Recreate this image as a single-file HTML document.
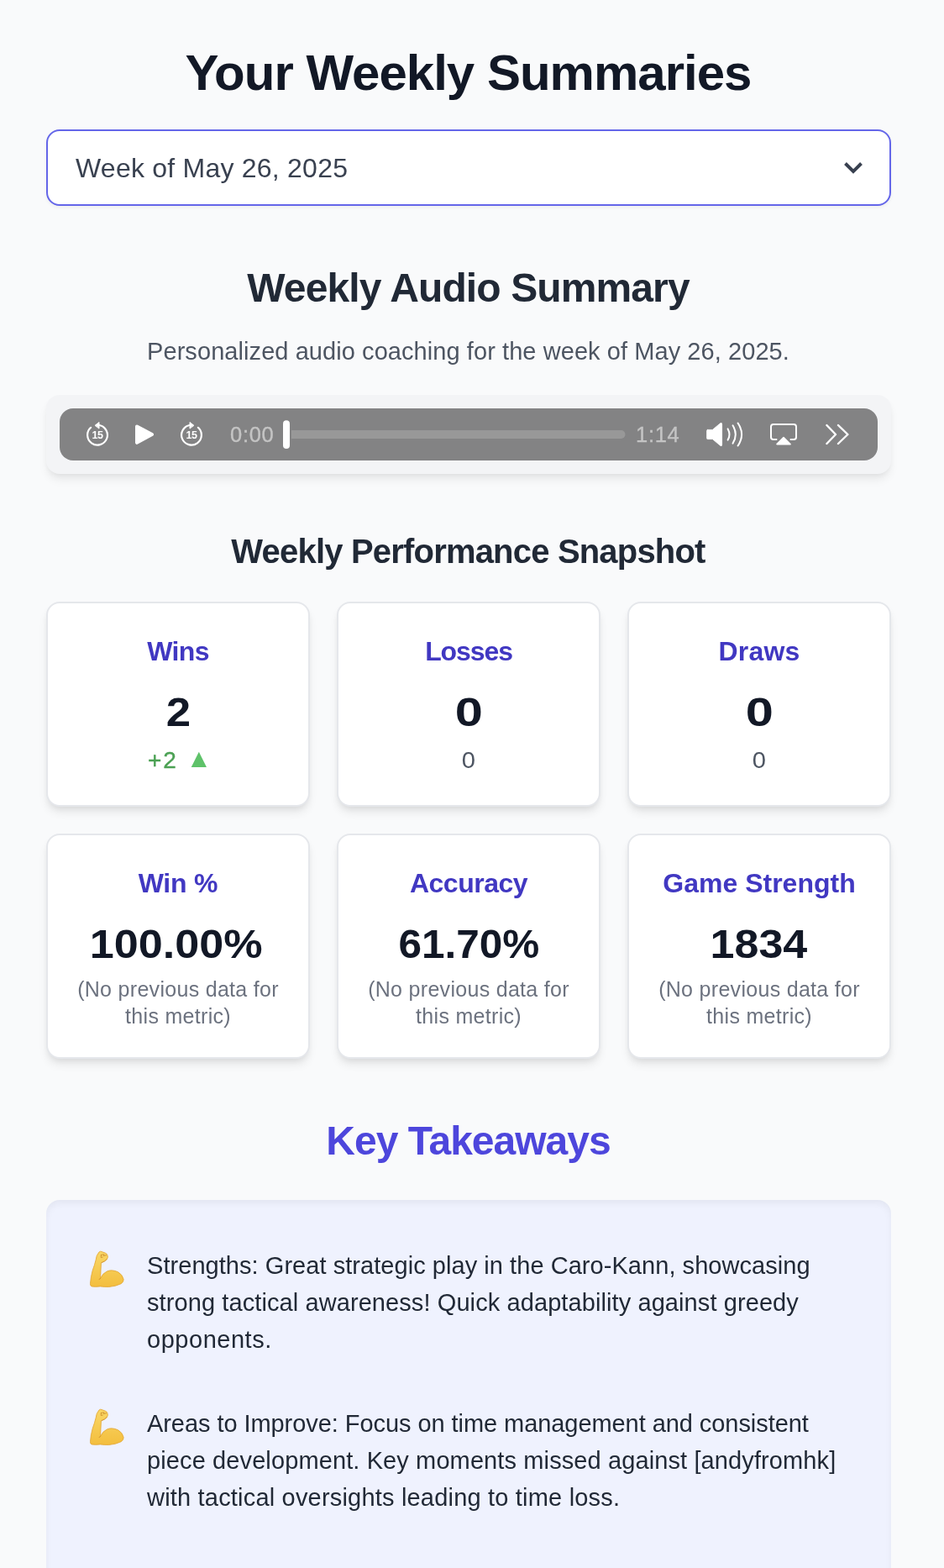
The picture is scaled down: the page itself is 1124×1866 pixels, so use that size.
<!DOCTYPE html>
<html lang="en">
<head>
<meta charset="utf-8">
<title>Your Weekly Summaries</title>
<style>
*{box-sizing:border-box;margin:0;padding:0}
html,body{width:1124px;height:1866px;overflow:hidden}
body{background:#f9fafb;font-family:"Liberation Sans",sans-serif;color:#121826;position:relative}
.c{position:absolute;left:54.5px;width:1006px;text-align:center;white-space:nowrap}
.c span,.card span{display:inline-block}
h1{top:51px;font-size:60px;line-height:72px;font-weight:700;color:#121826}
.select{position:absolute;left:55px;top:154px;width:1006px;height:91px;border:2px solid #6466e9;border-radius:16px;background:#fff;box-shadow:0 2px 4px rgba(0,0,0,.05)}
.select span{position:absolute;left:33px;top:24px;font-size:32px;line-height:40px;color:#394150;white-space:nowrap}
.select svg{position:absolute;left:947px;top:36px}
h2{top:314px;font-size:48px;line-height:58px;font-weight:700;color:#212936}
.sub{top:398px;font-size:28px;line-height:40px;color:#4d5562}
.audiowrap{position:absolute;left:55px;top:470px;width:1006px;height:94px;border-radius:16px;background:#f3f4f6;box-shadow:0 8px 12px -2px rgba(0,0,0,.08),0 3px 6px -2px rgba(0,0,0,.05)}
.player{position:absolute;left:16px;top:16px;width:974px;height:62px;border-radius:16px;background:#838384}
.player svg{position:absolute;left:0;top:0}
.time{position:absolute;top:0;height:62px;line-height:62px;font-size:25px;color:#c1c1c1;white-space:nowrap}
h3{top:632px;font-size:40px;line-height:48px;font-weight:700;color:#212936}
.card{position:absolute;width:314px;background:#fff;border:2px solid #e5e7eb;border-radius:16px;box-shadow:0 8px 12px -2px rgba(0,0,0,.09),0 4px 8px -4px rgba(0,0,0,.09);text-align:center}
.card div{position:absolute;left:-20px;right:-20px;white-space:nowrap}
.card .t{top:37px;font-size:32px;line-height:40px;font-weight:700;color:#4138c2}
.card .v{top:100px;font-size:48px;line-height:60px;font-weight:700;color:#121826}
.card .d{top:167px;font-size:28px;line-height:40px;color:#4d5562}
.card .n{top:167px;font-size:24px;line-height:32px;color:#6c727f}
.r1{top:716px;height:244px}
.r2{top:992px;height:268px}
.c1{left:55px}.c2{left:401px}.c3{left:747px}
.kt{top:1327.5px;font-size:48px;line-height:60px;font-weight:700;color:#4d46dc}
.box{position:absolute;left:55px;top:1428px;width:1006px;height:460px;border-radius:16px;background:#eff2fe;box-shadow:inset 0 4px 8px rgba(0,0,0,.05)}
.li{position:absolute;left:120px;font-size:28px;line-height:44px;color:#212936;white-space:nowrap}
.li span{display:block}
.em{position:absolute;left:40px;width:65px;height:65px}

/* fit */
#h1{letter-spacing:-0.99px}
#sel{letter-spacing:.23px}
#h2{letter-spacing:-.89px}
#sub{font-size:29px;letter-spacing:.07px}
#h3{letter-spacing:-.81px}
#wins{letter-spacing:-.63px}
#losses{letter-spacing:-1.1px}
#draws{letter-spacing:.2px}
#winp{letter-spacing:-.2px}
#acc{letter-spacing:-.51px}
#v1{transform:scaleX(1.10)}
#v2,#v3{transform:scaleX(1.24)}
#v4{transform:scaleX(1.086);position:relative;left:-2px}
#v5{transform:scaleX(1.031)}
#v6{transform:scaleX(1.084);position:relative;left:-1px}
#d1{letter-spacing:2px;position:relative;left:4px;-webkit-text-stroke:.4px #4ca154}
#tri{color:#5ec269;font-size:31px;line-height:40px;margin-left:13.5px;vertical-align:top;position:relative;top:-2px}
#d2,#d3{transform:scaleX(1.04)}
.card .n{font-size:25px;letter-spacing:.3px}
#kt{letter-spacing:-1px}
.li{font-size:29px}
#l1{letter-spacing:.05px}#l2{letter-spacing:.09px}#l3{letter-spacing:.53px}#l4{letter-spacing:-.065px}#l5{letter-spacing:.11px}#l6{letter-spacing:.19px}
.time{font-size:25.5px;letter-spacing:.7px;-webkit-text-stroke:.35px #c4c4c4;color:#c4c4c4;margin-left:-1px}
</style>
</head>
<body>
<h1 class="c"><span id="h1">Your Weekly Summaries</span></h1>

<div class="select"><span id="sel">Week of May 26, 2025</span>
<svg width="24" height="16" viewBox="0 0 24 16"><path d="M2.5 2.5 L12 12 L21.5 2.5" fill="none" stroke="#394150" stroke-width="4"/></svg>
</div>

<h2 class="c"><span id="h2">Weekly Audio Summary</span></h2>
<div class="c sub"><span id="sub">Personalized audio coaching for the week of May 26, 2025.</span></div>

<div class="audiowrap"><div class="player">
<svg width="974" height="62" viewBox="0 0 974 62" fill="none" stroke="#fff" stroke-linecap="round" stroke-linejoin="round" font-family="Liberation Sans, sans-serif">
<!-- back 15 -->
<g id="bk" transform="translate(45 31.7)">
<path d="M2.3 -11.7 A11.9 11.9 0 1 1 -7.9 -8.9" stroke-width="2.2"/>
<path d="M-2.6 -11.6 L2 -15.2 L2 -8 Z" fill="#fff" stroke-width="1"/>
<text x="0" y="4.4" text-anchor="middle" font-size="12.5" font-weight="700" fill="#fff" stroke="none" letter-spacing="-0.4">15</text>
</g>
<!-- play -->
<path d="M92 21.4 L110 31.1 L92 40.8 Z" fill="#fff" stroke-width="4"/>
<!-- fwd 15 -->
<g id="fw" transform="translate(157 31.7)">
<path d="M-2.3 -11.7 A11.9 11.9 0 1 0 7.9 -8.9" stroke-width="2.2"/>
<path d="M2.6 -11.6 L-2 -15.2 L-2 -8 Z" fill="#fff" stroke-width="1"/>
<text x="0" y="4.4" text-anchor="middle" font-size="12.5" font-weight="700" fill="#fff" stroke="none" letter-spacing="-0.4">15</text>
</g>
<!-- track -->
<rect x="266" y="26" width="407.5" height="10" rx="5" fill="#989898" stroke="none"/>
<rect x="264" y="12.5" width="12" height="37" rx="6" fill="#838384" stroke="none"/>
<rect x="266" y="14.2" width="8" height="33.8" rx="4" fill="#fff" stroke="none"/>
<!-- volume -->
<path d="M771.6 25.4 H777.4 L786.6 17.8 Q788.6 16.4 788.6 18.8 V43.2 Q788.6 45.6 786.6 44.2 L777.4 36.6 H771.6 Q770.6 36.6 770.6 35.6 V26.4 Q770.6 25.4 771.6 25.4 Z" fill="#fff" stroke-width="0.8"/>
<path d="M795.6 24.4 Q799.4 31 795.6 37.6" stroke-width="2"/>
<path d="M801.6 20.4 Q808 31 801.6 41.6" stroke-width="2"/>
<path d="M807.6 17.5 Q816.6 31 807.6 44.5" stroke-width="2"/>
<!-- airplay -->
<path d="M853.5 37 H849.8 Q847 37 847 34.2 V21.8 Q847 19 849.8 19 H874.2 Q877 19 877 21.8 V34.2 Q877 37 874.2 37 H870.5" stroke-width="2"/>
<path d="M862 34.6 L870 42.6 H854 Z" fill="#fff" stroke-width="1.6"/>
<!-- chevrons -->
<path d="M913.4 20 L924 31 L913.4 42" stroke-width="2.4"/>
<path d="M927 20 L938.4 31 L927 42" stroke-width="2.4"/>
</svg>
<span class="time" id="t0" style="left:204px">0:00</span>
<span class="time" id="t1" style="left:687px">1:14</span>
</div></div>

<h3 class="c"><span id="h3">Weekly Performance Snapshot</span></h3>

<div class="card r1 c1"><div class="t"><span id="wins">Wins</span></div><div class="v"><span id="v1">2</span></div><div class="d" style="color:#4ca154"><span id="d1">+2</span><span id="tri">&#9650;</span></div></div>
<div class="card r1 c2"><div class="t"><span id="losses">Losses</span></div><div class="v"><span id="v2">0</span></div><div class="d"><span id="d2">0</span></div></div>
<div class="card r1 c3"><div class="t"><span id="draws">Draws</span></div><div class="v"><span id="v3">0</span></div><div class="d"><span id="d3">0</span></div></div>
<div class="card r2 c1"><div class="t"><span id="winp">Win %</span></div><div class="v"><span id="v4">100.00%</span></div><div class="n"><span id="n1a">(No previous data for</span><br><span id="n1b">this metric)</span></div></div>
<div class="card r2 c2"><div class="t"><span id="acc">Accuracy</span></div><div class="v"><span id="v5">61.70%</span></div><div class="n"><span id="n2a">(No previous data for</span><br><span id="n2b">this metric)</span></div></div>
<div class="card r2 c3"><div class="t"><span id="gs">Game Strength</span></div><div class="v"><span id="v6">1834</span></div><div class="n"><span id="n3a">(No previous data for</span><br><span id="n3b">this metric)</span></div></div>

<div class="c kt"><span id="kt">Key Takeaways</span></div>

<div class="box">
<svg class="em" style="top:52px" viewBox="0 0 1124 1124" role="img" aria-label="&#128170;">
<linearGradient id="ag1" x1="0" y1="0" x2="0" y2="1"><stop offset="0" stop-color="#f9d766"/><stop offset="1" stop-color="#f3be3e"/></linearGradient>
<path d="M400 170 Q425 150 450 165 L520 190 Q560 205 568 235 Q590 280 560 320 Q520 365 440 395 Q432 560 425 715 Q470 610 560 570 Q660 525 790 585 Q880 640 902 735 Q905 790 850 825 Q740 880 600 890 Q500 890 420 880 Q320 895 245 880 Q212 870 216 820 Q225 690 262 555 Q305 440 332 330 Q335 245 400 170 Z" fill="url(#ag1)" stroke="#e3a532" stroke-width="14" stroke-linejoin="round"/>
<path d="M425 715 Q418 735 400 735" fill="none" stroke="#d18f2a" stroke-width="16" stroke-linecap="round"/>
<path d="M438 232 L500 222 L492 250 L545 238 M438 238 L436 285 L470 278" fill="none" stroke="#c98a2a" stroke-width="14" stroke-linecap="round" stroke-linejoin="round"/>
<path d="M448 392 Q515 370 558 322" fill="none" stroke="#cf9230" stroke-width="13" stroke-linecap="round"/>
</svg>
<svg class="em" style="top:240px" viewBox="0 0 1124 1124" role="img" aria-label="&#128170;">
<linearGradient id="ag2" x1="0" y1="0" x2="0" y2="1"><stop offset="0" stop-color="#f9d766"/><stop offset="1" stop-color="#f3be3e"/></linearGradient>
<path d="M400 170 Q425 150 450 165 L520 190 Q560 205 568 235 Q590 280 560 320 Q520 365 440 395 Q432 560 425 715 Q470 610 560 570 Q660 525 790 585 Q880 640 902 735 Q905 790 850 825 Q740 880 600 890 Q500 890 420 880 Q320 895 245 880 Q212 870 216 820 Q225 690 262 555 Q305 440 332 330 Q335 245 400 170 Z" fill="url(#ag2)" stroke="#e3a532" stroke-width="14" stroke-linejoin="round"/>
<path d="M425 715 Q418 735 400 735" fill="none" stroke="#d18f2a" stroke-width="16" stroke-linecap="round"/>
<path d="M438 232 L500 222 L492 250 L545 238 M438 238 L436 285 L470 278" fill="none" stroke="#c98a2a" stroke-width="14" stroke-linecap="round" stroke-linejoin="round"/>
<path d="M448 392 Q515 370 558 322" fill="none" stroke="#cf9230" stroke-width="13" stroke-linecap="round"/>
</svg>
<div class="li" style="top:56px"><span id="l1">Strengths: Great strategic play in the Caro-Kann, showcasing</span><span id="l2">strong tactical awareness! Quick adaptability against greedy</span><span id="l3">opponents.</span></div>
<div class="li" style="top:244px"><span id="l4">Areas to Improve: Focus on time management and consistent</span><span id="l5">piece development. Key moments missed against [andyfromhk]</span><span id="l6">with tactical oversights leading to time loss.</span></div>
</div>
</body>
</html>
